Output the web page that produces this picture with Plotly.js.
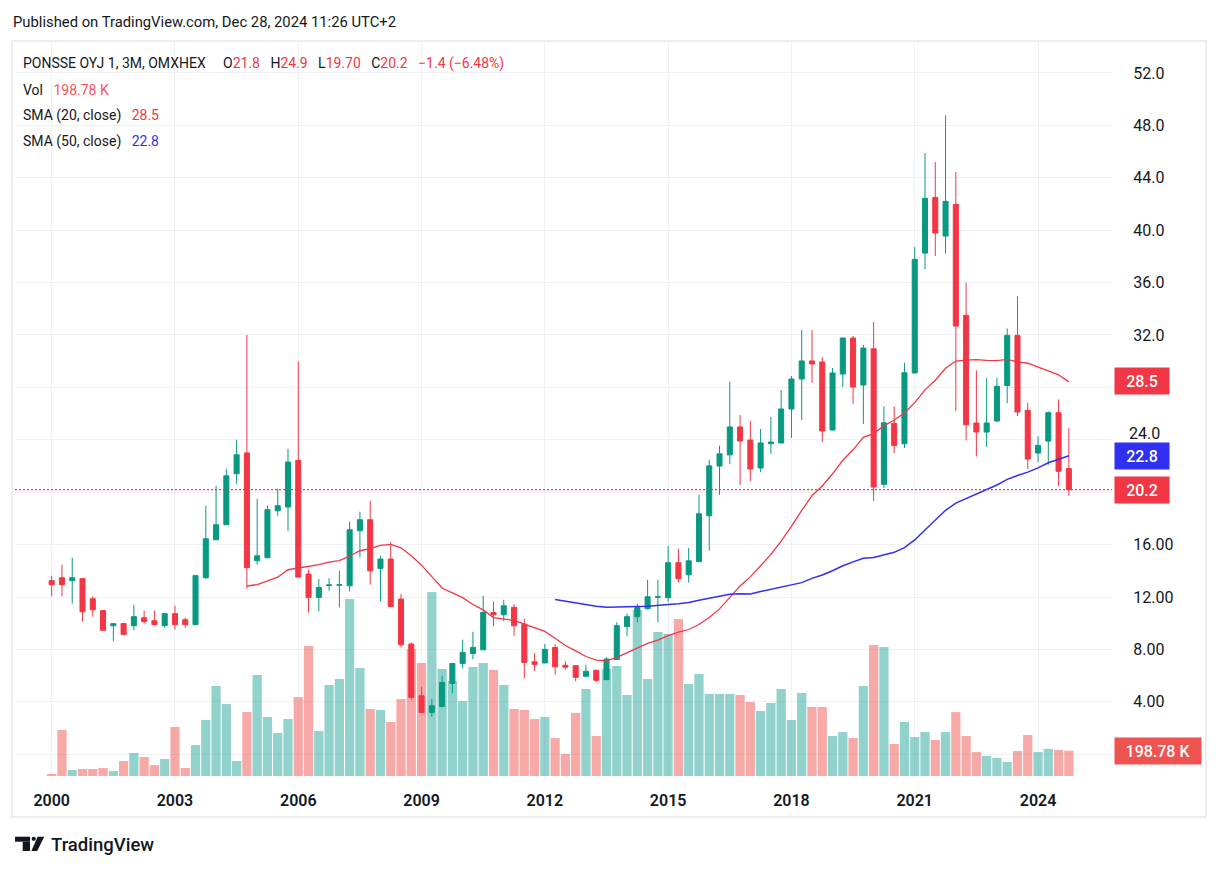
<!DOCTYPE html>
<html>
<head>
<meta charset="utf-8">
<script src="https://cdn.plot.ly/plotly-3.0.1.min.js"></script>
<style>
  html, body { margin: 0; padding: 0; background: #ffffff; }
  #chart { width: 1221px; height: 871px; }
</style>
</head>
<body>
<div id="chart"></div>
<script>
// ---------------- DATA (quarterly, 2000 Q1 .. 2024 Q4) ----------------
const firstYear = 2000;
const lastYear = 2024;
const tickYears = ['2000', '2003', '2006', '2009', '2012', '2015', '2018', '2021', '2024'];

const open = [
  13.25, 13.47, 13.25, 13.40, 11.87, 10.96, 9.81, 9.97, 9.81, 10.42,
  10.19, 9.81, 10.73, 10.27, 9.89, 13.47, 16.37, 17.52, 21.41, 23.00,
  14.77, 15.00, 18.58, 18.87, 22.43, 13.75, 11.97, 12.88, 12.90, 12.86,
  17.06, 17.90, 14.18, 14.90, 11.84, 8.41, 4.46, 3.19, 3.65, 5.40,
  6.93, 7.69, 7.97, 10.82, 10.65, 11.21, 9.93, 7.06, 6.97, 8.15,
  6.79, 6.76, 5.95, 6.41, 5.69, 7.22, 9.74, 10.50, 11.11, 11.98,
  11.95, 14.62, 13.70, 14.70, 18.20, 22.00, 22.85, 24.98, 23.98, 21.85,
  23.70, 23.76, 26.35, 28.64, 30.02, 29.94, 24.75, 29.02, 31.77, 28.18,
  30.95, 20.60, 25.25, 23.70, 29.10, 38.25, 42.50, 39.55, 41.97, 33.50,
  25.28, 24.59, 25.43, 28.15, 31.97, 26.24, 22.99, 23.90, 26.07, 21.80
];
const high = [
  13.63, 14.47, 15.00, 13.45, 12.05, 10.98, 9.99, 9.99, 11.41, 10.96,
  10.96, 10.75, 11.34, 10.42, 13.65, 18.97, 20.49, 21.79, 24.00, 32.00,
  19.50, 18.97, 20.26, 23.31, 30.00, 14.06, 13.37, 13.45, 14.00, 17.75,
  18.51, 19.35, 15.15, 16.22, 12.22, 8.53, 5.15, 4.21, 5.99, 6.95,
  8.74, 9.35, 12.10, 11.66, 11.79, 11.46, 10.32, 7.72, 8.41, 8.40,
  7.09, 6.78, 6.84, 6.43, 7.40, 10.07, 10.73, 11.49, 13.32, 13.32,
  15.91, 15.69, 15.74, 19.80, 22.47, 23.54, 28.44, 25.89, 25.44, 24.82,
  25.74, 27.80, 28.87, 32.38, 32.38, 30.32, 29.48, 31.79, 31.92, 31.24,
  32.99, 26.55, 26.55, 29.88, 38.71, 45.89, 45.20, 48.76, 44.44, 35.99,
  29.30, 28.71, 28.71, 32.50, 34.95, 26.83, 24.26, 26.17, 27.08, 24.90
];
const low = [
  12.05, 12.05, 11.49, 10.14, 10.50, 9.44, 8.62, 9.10, 9.46, 9.97,
  9.81, 9.66, 9.51, 9.66, 9.87, 13.40, 16.35, 17.50, 20.64, 12.63,
  14.47, 14.98, 18.20, 17.06, 13.50, 10.82, 10.90, 12.48, 11.21, 12.43,
  15.02, 12.94, 11.66, 11.25, 8.15, 4.16, 3.17, 2.86, 3.57, 4.64,
  6.55, 7.26, 7.95, 9.76, 10.14, 9.04, 5.79, 6.37, 6.95, 6.07,
  6.46, 5.57, 5.93, 5.49, 5.67, 7.20, 9.00, 10.07, 11.04, 10.07,
  11.64, 13.12, 13.10, 14.68, 15.54, 19.80, 22.16, 20.55, 20.85, 21.54,
  22.92, 23.74, 24.14, 25.51, 28.34, 23.83, 24.73, 28.03, 26.73, 25.21,
  19.32, 20.32, 22.99, 23.37, 29.08, 37.03, 38.03, 38.23, 26.19, 23.95,
  22.73, 23.45, 25.41, 26.80, 25.81, 21.77, 22.30, 22.10, 20.47, 19.70
];
const close = [
  12.94, 12.94, 13.47, 10.88, 11.03, 9.46, 9.97, 9.13, 10.50, 10.12,
  9.89, 10.73, 9.89, 9.89, 13.63, 16.45, 17.52, 21.25, 22.86, 14.24,
  15.15, 18.66, 18.97, 22.30, 13.52, 11.97, 12.73, 12.92, 12.93, 17.13,
  17.90, 14.00, 14.90, 11.28, 8.36, 4.34, 3.19, 3.70, 5.48, 6.93,
  7.77, 8.15, 10.82, 10.65, 11.33, 9.81, 7.01, 6.85, 8.00, 6.67,
  6.64, 5.87, 6.33, 5.64, 7.27, 9.81, 10.50, 11.19, 12.02, 12.02,
  14.62, 13.40, 14.76, 18.35, 22.01, 22.93, 24.98, 23.91, 21.77, 23.76,
  23.83, 26.35, 28.64, 30.02, 29.79, 24.67, 29.10, 31.77, 28.03, 31.00,
  20.39, 25.30, 23.57, 29.12, 37.77, 42.43, 39.78, 42.20, 32.68, 25.15,
  24.59, 25.28, 28.08, 31.97, 26.12, 22.53, 23.57, 26.07, 21.60, 20.20
];
// volume, thousands of shares
const volume = [
  16, 361, 47, 55, 55, 63, 39, 118, 181, 149,
  86, 133, 385, 63, 243, 440, 707, 565, 118, 502,
  793, 463, 338, 447, 620, 1021, 353, 714, 761, 1389,
  848, 526, 518, 424, 604, 997, 887, 1444, 840, 746,
  589, 856, 887, 832, 714, 526, 518, 447, 463, 298,
  173, 495, 683, 314, 840, 864, 636, 1303, 761, 1130,
  1115, 1232, 722, 801, 644, 644, 644, 636, 581, 510,
  573, 683, 440, 652, 542, 542, 314, 345, 298, 707,
  1028, 1013, 251, 424, 306, 345, 283, 345, 502, 314,
  188, 157, 141, 110, 196, 322, 188, 212, 204, 198.78
];
// price scale: gridlines every 4; labels hidden under the value boxes are left blank
const priceTicks = [0, 4, 8, 12, 16, 20, 24, 28, 32, 36, 40, 44, 48, 52];
const priceTickText = ['', '4.00', '8.00', '12.00', '16.00', '', '', '', '32.0', '36.0', '40.0', '44.0', '48.0', '52.0'];
const label24 = '24.0';

// ---------------- derived ----------------
const quarters = [];
for (let y = firstYear; y <= lastYear; y++) {
  for (let q = 1; q <= 4; q++) quarters.push(y + ' Q' + q);
}
function sma(arr, n) {
  return arr.map((_, i) => {
    if (i < n - 1) return null;
    let s = 0;
    for (let k = i - n + 1; k <= i; k++) s += arr[k];
    return s / n;
  });
}
const sma20 = sma(close, 20);
const sma50 = sma(close, 50);

// ---------------- style ----------------
const UP = '#089981', DOWN = '#f23645';
const VOL_UP = 'rgba(38,166,154,0.5)', VOL_DOWN = 'rgba(239,83,80,0.5)';
const BLUE = '#3030f2';
const TEXT = '#131722';
const GRID = '#eff1f4';
const FONT = 'Roboto, "Noto Sans", sans-serif';

// plot area in page pixels: x 15..1112, y 41..782
const L = 15, R = 1112, T = 41, B = 782;
const W = 1221, H = 871;
const px2x = px => (px - L) / (R - L);
const px2y = py => (B - py) / (B - T);

const volColors = close.map((c, i) => c >= open[i] ? VOL_UP : VOL_DOWN);

const traces = [
  {
    type: 'bar', x: quarters, y: volume, yaxis: 'y',
    marker: { color: volColors, line: { width: 0 } },
    hoverinfo: 'skip', showlegend: false
  },
  {
    type: 'candlestick', x: quarters, open: open, high: high, low: low, close: close,
    yaxis: 'y2', whiskerwidth: 0,
    increasing: { line: { color: UP, width: 1 }, fillcolor: UP },
    decreasing: { line: { color: DOWN, width: 1 }, fillcolor: DOWN },
    hoverinfo: 'skip', showlegend: false
  },
  {
    type: 'scatter', mode: 'lines', x: quarters, y: sma20, yaxis: 'y2',
    line: { color: DOWN, width: 1.3 }, hoverinfo: 'skip', showlegend: false, connectgaps: false
  },
  {
    type: 'scatter', mode: 'lines', x: quarters, y: sma50, yaxis: 'y2',
    line: { color: BLUE, width: 1.5 }, hoverinfo: 'skip', showlegend: false, connectgaps: false
  }
];

const red = s => '<span style="color:#f23645">' + s + '</span>';
const sp = n => '\u00a0'.repeat(n);

const lastClose = close[close.length - 1];
const lastVol = volume[volume.length - 1];

const LEG = 14;
const annotations = [
  { text: 'Published on TradingView.com, Dec 28, 2024 11:26 UTC+2', x: px2x(11), y: px2y(22),
    font: { size: 14.8, color: TEXT } },
  { text: 'PONSSE OYJ 1, 3M, OMXHEX' + sp(5) + 'O' + red('21.8') + sp(3) + 'H' + red('24.9') + sp(3) +
          'L' + red('19.70') + sp(3) + 'C' + red('20.2') + sp(3) + red('\u22121.4 (\u22126.48%)'),
    x: px2x(21), y: px2y(64), font: { size: LEG, color: TEXT } },
  { text: 'Vol' + sp(3) + '<span style="color:#f7525f">198.78' + sp(1) + 'K</span>',
    x: px2x(21), y: px2y(90), font: { size: LEG, color: TEXT } },
  { text: 'SMA (20, close)' + sp(3) + red('28.5'),
    x: px2x(21), y: px2y(116), font: { size: LEG, color: TEXT } },
  { text: 'SMA (50, close)' + sp(3) + '<span style="color:' + BLUE + '">22.8</span>',
    x: px2x(21), y: px2y(142), font: { size: LEG, color: TEXT } },
  { text: 'TradingView', x: px2x(49), y: px2y(845), font: { size: 18.5, color: TEXT, weight: 500 } },
  // the 24.0 price label sits just above the SMA-50 value box
  { text: label24, x: px2x(1127), y: px2y(433), font: { size: 16, color: TEXT } }
].map(a => Object.assign({ xref: 'paper', yref: 'paper', xanchor: 'left', yanchor: 'middle',
  showarrow: false, align: 'left' }, a));

// price-scale value labels
function boxLabel(text, y, yref, bg, w) {
  return { text: text, xref: 'paper', x: px2x(1114), xanchor: 'left', yref: yref, y: y, yanchor: 'middle',
    showarrow: false, bgcolor: bg, borderpad: 4, width: w, height: 18, align: 'center',
    font: { size: 16, color: '#ffffff', weight: 500 } };
}
annotations.push(boxLabel('28.5', 28.5, 'y2', DOWN, 46));
annotations.push(boxLabel('22.8', 22.8, 'y2', BLUE, 46));
annotations.push(boxLabel('20.2', lastClose, 'y2', DOWN, 46));
annotations.push(boxLabel('198.78' + sp(1) + 'K', lastVol, 'y', '#ef5350', 78));

const shapes = [
  // chart frame
  { type: 'rect', xref: 'paper', yref: 'paper', x0: px2x(12), x1: px2x(1206), y0: px2y(41), y1: px2y(817),
    line: { color: '#e6e8ee', width: 1.5 }, fillcolor: 'rgba(0,0,0,0)', layer: 'below' },
  // last price line
  { type: 'line', xref: 'paper', yref: 'y2', x0: 0, x1: 1, y0: lastClose, y1: lastClose,
    line: { color: DOWN, width: 1.2, dash: '2px,2px' }, layer: 'above' },
  // TradingView logo
  { type: 'rect', xref: 'paper', yref: 'paper', x0: px2x(15), x1: px2x(30), y0: px2y(836.7), y1: px2y(841.7),
    line: { width: 0 }, fillcolor: TEXT },
  { type: 'rect', xref: 'paper', yref: 'paper', x0: px2x(22.7), x1: px2x(30), y0: px2y(841.7), y1: px2y(851),
    line: { width: 0 }, fillcolor: TEXT },
  { type: 'circle', xref: 'paper', yref: 'paper', x0: px2x(31.6), x1: px2x(35.8), y0: px2y(836.7), y1: px2y(840.9),
    line: { width: 0 }, fillcolor: TEXT },
  { type: 'path', xref: 'paper', yref: 'paper',
    path: 'M' + px2x(37.6) + ',' + px2y(836.7) + ' L' + px2x(44.2) + ',' + px2y(836.7) +
          ' L' + px2x(37.2) + ',' + px2y(851) + ' L' + px2x(31.4) + ',' + px2y(851) + ' Z',
    line: { width: 0 }, fillcolor: TEXT }
];

const layout = {
  width: W, height: H,
  margin: { l: L, r: W - R, t: T, b: H - B, pad: 0 },
  paper_bgcolor: '#ffffff', plot_bgcolor: '#ffffff',
  font: { family: FONT, color: TEXT },
  showlegend: false,
  bargap: 0.1,
  hovermode: false,
  dragmode: false,
  xaxis: {
    type: 'category', range: [-3.57, 103.2], rangeslider: { visible: false },
    tickmode: 'array', tickvals: tickYears.map(y => y + ' Q1'), ticktext: tickYears,
    showgrid: true, gridcolor: GRID, gridwidth: 1, zeroline: false, showline: false,
    ticks: 'outside', ticklen: 4, tickcolor: 'rgba(0,0,0,0)',
    tickfont: { size: 16, color: TEXT, weight: 600 }, fixedrange: true
  },
  yaxis: {
    range: [-47, 5770], visible: false, showgrid: false, zeroline: false, fixedrange: true
  },
  yaxis2: {
    overlaying: 'y', side: 'right', anchor: 'x', range: [-2.12, 54.44],
    tickmode: 'array', tickvals: priceTicks, ticktext: priceTickText,
    showgrid: true, gridcolor: GRID, gridwidth: 1, zeroline: false, showline: false,
    ticks: 'outside', ticklen: 17, tickcolor: 'rgba(0,0,0,0)',
    tickfont: { size: 16, color: TEXT }, fixedrange: true
  },
  annotations: annotations,
  shapes: shapes
};

Plotly.newPlot('chart', traces, layout, { displayModeBar: false, staticPlot: true });
</script>
</body>
</html>
